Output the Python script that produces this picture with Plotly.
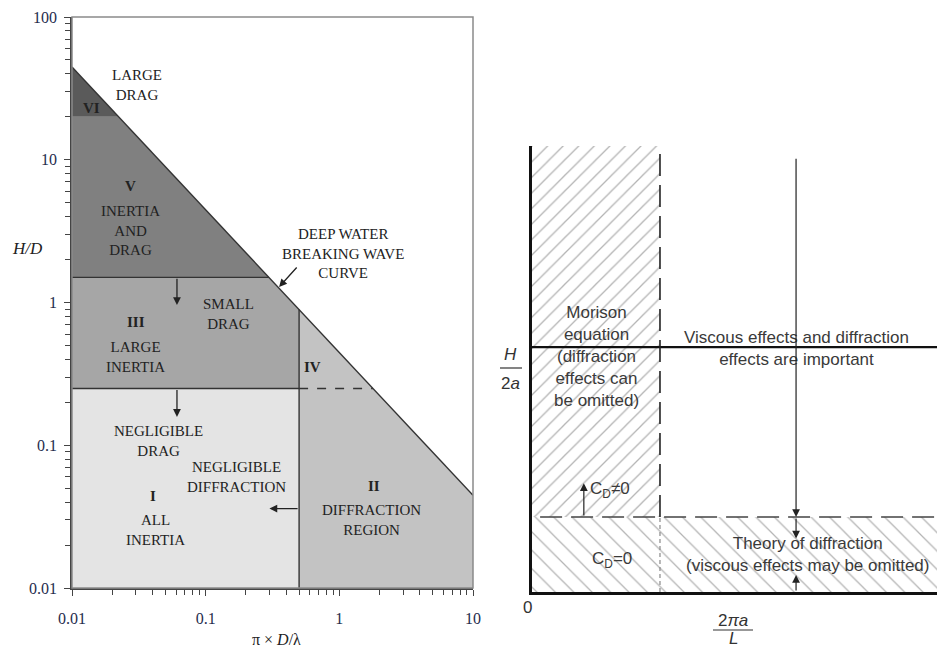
import math
import plotly.graph_objects as go

# ---------------- left panel: wave-force regimes on log-log axes ----------------
kd_range = [0.01, 10]          # pi * D / lambda
hd_range = [0.01, 100]         # H / D
breaking_coef = 0.446          # deep-water breaking: H/D = 0.446 / (pi D / lambda)
hd_large_drag = 20.0           # VI / V boundary
hd_inertia_drag = 1.5          # V / III boundary
hd_large_inertia = 0.25        # III / I boundary
kd_diffraction = 0.5           # onset of diffraction

region_colors = {"VI": "#5a5a5a", "V": "#808080", "III": "#a6a6a6",
                 "II": "#c3c3c3", "I": "#e4e4e4"}

kd_ticks = [0.01, 0.1, 1, 10]
kd_tick_text = ["0.01", "0.1", "1", "10"]
hd_ticks = [0.01, 0.1, 1, 10, 100]
hd_tick_text = ["0.01", "0.1", "1", "10", "100"]

# region labels: text, pi*D/lambda, H/D, bold
region_labels = [
    ("LARGE<br>DRAG", 0.0306, 33.4, False),
    ("VI", 0.0141, 23.1, True),
    ("V", 0.0272, 6.55, True),
    ("INERTIA<br>AND<br>DRAG", 0.0272, 3.17, False),
    ("III", 0.0301, 0.73, True),
    ("SMALL<br>DRAG", 0.147, 0.83, False),
    ("LARGE<br>INERTIA", 0.0301, 0.415, False),
    ("IV", 0.635, 0.353, True),
    ("NEGLIGIBLE<br>DRAG", 0.044, 0.107, False),
    ("NEGLIGIBLE<br>DIFFRACTION", 0.169, 0.060, False),
    ("I", 0.0404, 0.044, True),
    ("ALL<br>INERTIA", 0.0418, 0.0255, False),
    ("II", 1.82, 0.052, True),
    ("DIFFRACTION<br>REGION", 1.75, 0.030, False),
    ("DEEP WATER<br>BREAKING WAVE<br>CURVE", 1.06, 2.22, False),
]

# arrows: (tail kd, tail hd, tip kd, tip hd)
regime_arrows = [
    (0.061, 1.5, 0.061, 0.96),
    (0.061, 0.25, 0.061, 0.158),
    (0.5, 0.036, 0.30, 0.036),
    (0.491, 1.80, 0.354, 1.285),
]

# ---------------- right panel: schematic on linear axes ----------------
ka_range = [0, 10]             # 2 pi a / L
ha_range = [0, 10]             # H / 2a
ka_morison = 3.16              # right edge of Morison band
ha_split = 5.49                # viscous + diffraction split line
ha_diffraction = 1.68          # top of pure-diffraction band
ka_dim = 6.52                  # position of the dimension arrows
ka_cd = 1.28                   # position of the C_D arrow


def breaking(kd):
    return breaking_coef / kd


def breaking_inv(hd):
    return breaking_coef / hd


def lg(v):
    return math.log10(v)


SERIF = "Liberation Serif, Times New Roman, serif"
SANS = "Liberation Sans, Arial, sans-serif"
LINE = "#333333"
W, H = 937, 650

fig = go.Figure()

# filled regimes
polys = {
    "I": [(kd_range[0], hd_range[0]), (kd_diffraction, hd_range[0]),
          (kd_diffraction, hd_large_inertia), (kd_range[0], hd_large_inertia)],
    "III": [(kd_range[0], hd_large_inertia), (kd_diffraction, hd_large_inertia),
            (kd_diffraction, breaking(kd_diffraction)),
            (breaking_inv(hd_inertia_drag), hd_inertia_drag), (kd_range[0], hd_inertia_drag)],
    "V": [(kd_range[0], hd_inertia_drag), (breaking_inv(hd_inertia_drag), hd_inertia_drag),
          (breaking_inv(hd_large_drag), hd_large_drag), (kd_range[0], hd_large_drag)],
    "VI": [(kd_range[0], hd_large_drag), (breaking_inv(hd_large_drag), hd_large_drag),
           (kd_range[0], breaking(kd_range[0]))],
    "II": [(kd_diffraction, hd_range[0]), (kd_range[1], hd_range[0]),
           (kd_range[1], breaking(kd_range[1])), (kd_diffraction, breaking(kd_diffraction))],
}
for name, pts in polys.items():
    xs = [p[0] for p in pts] + [pts[0][0]]
    ys = [p[1] for p in pts] + [pts[0][1]]
    fig.add_trace(go.Scatter(x=xs, y=ys, fill="toself", mode="none",
                             fillcolor=region_colors[name], hoverinfo="skip",
                             xaxis="x", yaxis="y"))

# boundary lines
boundaries = [
    ([kd_range[0], kd_range[1]], [breaking(kd_range[0]), breaking(kd_range[1])], "solid"),
    ([kd_range[0], breaking_inv(hd_inertia_drag)], [hd_inertia_drag, hd_inertia_drag], "solid"),
    ([kd_range[0], kd_diffraction], [hd_large_inertia, hd_large_inertia], "solid"),
    ([kd_diffraction, kd_diffraction], [hd_range[0], breaking(kd_diffraction)], "solid"),
    ([kd_diffraction, breaking_inv(hd_large_inertia)], [hd_large_inertia, hd_large_inertia], "dash"),
]
for xs, ys, dash in boundaries:
    fig.add_trace(go.Scatter(x=xs, y=ys, mode="lines", hoverinfo="skip",
                             line=dict(color=LINE, width=1.4, dash=dash),
                             xaxis="x", yaxis="y"))

# right panel hatching
fig.add_trace(go.Scatter(
    x=[0, ka_morison, ka_morison, 0, 0],
    y=[ha_diffraction, ha_diffraction, ha_range[1], ha_range[1], ha_diffraction],
    fill="toself", mode="none", fillcolor="white", hoverinfo="skip",
    fillpattern=dict(shape="/", fgcolor="#6a6a6a", bgcolor="white", size=11, solidity=0.12),
    xaxis="x2", yaxis="y2"))
fig.add_trace(go.Scatter(
    x=[0, ka_range[1], ka_range[1], 0, 0],
    y=[0, 0, ha_diffraction, ha_diffraction, 0],
    fill="toself", mode="none", fillcolor="white", hoverinfo="skip",
    fillpattern=dict(shape="\\", fgcolor="#6a6a6a", bgcolor="white", size=13, solidity=0.1),
    xaxis="x2", yaxis="y2"))

# right panel lines
schematic_lines = [
    ([0, ka_range[1]], [ha_split, ha_split], "#111111", 2.2, "solid"),
    ([ka_morison, ka_morison], [ha_diffraction, ha_range[1]], "#222222", 1.6, "22px,9px"),
    ([ka_morison, ka_morison], [0, ha_diffraction], "#888888", 1.2, "4px,3px"),
    ([0.2, ka_range[1]], [ha_diffraction, ha_diffraction], "#444444", 1.5, "22px,9px"),
]
for xs, ys, col, w, dash in schematic_lines:
    fig.add_trace(go.Scatter(x=xs, y=ys, mode="lines", hoverinfo="skip",
                             line=dict(color=col, width=w, dash=dash),
                             xaxis="x2", yaxis="y2"))

annotations = []
for text, kd, hd, bold in region_labels:
    annotations.append(dict(
        x=lg(kd), y=lg(hd), xref="x", yref="y", showarrow=False,
        xanchor="center", yanchor="middle",
        text=f"<b>{text}</b>" if bold else text,
        font=dict(family=SERIF, size=15, color="#222222")))

for tx, ty, hx, hy in regime_arrows:
    annotations.append(dict(
        x=lg(hx), y=lg(hy), ax=lg(tx), ay=lg(ty), xref="x", yref="y",
        axref="x", ayref="y", text="", showarrow=True, arrowhead=2,
        arrowsize=1.2, arrowwidth=1.3, arrowcolor="#222222"))


def paper_text(text, px, py, font):
    return dict(x=px / W, y=1 - py / H, xref="paper", yref="paper", showarrow=False,
                xanchor="center", yanchor="middle", text=text, font=font)


# axis titles, left panel
annotations.append(paper_text("<i>H/D</i>", 27, 248,
                              dict(family=SERIF, size=17, color="#222222")))
annotations.append(paper_text("π × <i>D</i>/λ", 276, 639,
                              dict(family=SERIF, size=16, color="#222222")))

# right panel texts
right_texts = [
    ("Morison<br>equation<br>(diffraction<br>effects can<br>be omitted)", 1.60, 5.27),
    ("Viscous effects and diffraction<br>effects are important", 6.54, 5.45),
    ("Theory of diffraction<br>(viscous effects may be omitted)", 6.79, 0.85),
    ("C<sub>D</sub>≠0", 1.93, 2.29),
    ("C<sub>D</sub>=0", 1.98, 0.72),
]
for text, x, y in right_texts:
    annotations.append(dict(x=x, y=y, xref="x2", yref="y2", text=text, showarrow=False,
                            xanchor="center", yanchor="middle",
                            font=dict(family=SANS, size=17, color="#3a3a3a")))

schematic_arrows = [
    (ka_dim, 9.75, ka_dim, ha_diffraction),
    (ka_dim, ha_diffraction, ka_dim, 1.2),
    (ka_dim, 0.0, ka_dim, 0.38),
    (ka_cd, ha_diffraction, ka_cd, 2.44),
]
for tx, ty, hx, hy in schematic_arrows:
    annotations.append(dict(
        x=hx, y=hy, ax=tx, ay=ty, xref="x2", yref="y2", axref="x2", ayref="y2",
        text="", showarrow=True, arrowhead=2, arrowsize=1.3, arrowwidth=1.2,
        arrowcolor="#222222"))

# fraction-style axis labels, right panel
frac_font = dict(family=SANS, size=17, color="#333333")
annotations += [
    paper_text("<i>H</i>", 511, 355, frac_font),
    paper_text("2<i>a</i>", 511, 383, frac_font),
    paper_text("0", 527, 607, frac_font),
    paper_text("2<i>πa</i>", 733, 620, frac_font),
    paper_text("<i>L</i>", 733, 638, frac_font),
]

shapes = [
    # frame of left panel
    dict(type="rect", xref="x domain", yref="y domain", x0=0, x1=1, y0=0, y1=1,
         line=dict(color="#8a8a8a", width=1.5), layer="above"),
    # fraction bars
    dict(type="line", xref="paper", yref="paper", x0=500 / W, x1=522 / W,
         y0=1 - 368 / H, y1=1 - 368 / H, line=dict(color="#333333", width=1.2)),
    dict(type="line", xref="paper", yref="paper", x0=713 / W, x1=753 / W,
         y0=1 - 630 / H, y1=1 - 630 / H, line=dict(color="#333333", width=1.2)),
]

minor_kd = [m * 10 ** e for e in (-2, -1, 0) for m in range(2, 10)]
minor_hd = [m * 10 ** e for e in (-2, -1, 0, 1) for m in range(2, 10)]

tick_font = dict(family=SERIF, size=16, color="#1f2d4d")

fig.update_layout(
    width=W, height=H, margin=dict(l=0, r=0, t=0, b=0, autoexpand=False),
    paper_bgcolor="white", plot_bgcolor="white", showlegend=False,
    annotations=annotations, shapes=shapes,
    xaxis=dict(type="log", range=[lg(kd_range[0]), lg(kd_range[1])],
               domain=[72 / W, 473 / W], anchor="y", automargin=False,
               tickvals=kd_ticks, ticktext=kd_tick_text, ticks="outside",
               ticklen=6, tickwidth=1.2, tickcolor="#444444", tickfont=tick_font,
               ticklabelstandoff=9,
               minor=dict(tickvals=minor_kd, ticks="outside", ticklen=5,
                          tickwidth=1, tickcolor="#444444"),
               showgrid=False, zeroline=False, showline=True,
               linecolor="#444444", linewidth=1.6),
    yaxis=dict(type="log", range=[lg(hd_range[0]), lg(hd_range[1])],
               domain=[1 - 588 / H, 1 - 17 / H], anchor="x", automargin=False,
               tickvals=hd_ticks, ticktext=hd_tick_text, ticks="outside",
               ticklen=6, tickwidth=1.2, tickcolor="#444444", tickfont=tick_font,
               ticklabelstandoff=4,
               minor=dict(tickvals=minor_hd, ticks="outside", ticklen=5,
                          tickwidth=1, tickcolor="#444444"),
               showgrid=False, zeroline=False, showline=True,
               linecolor="#444444", linewidth=1.6),
    xaxis2=dict(range=ka_range, domain=[532 / W, 1.0], anchor="y2", automargin=False,
                showticklabels=False, ticks="", showgrid=False, zeroline=False,
                showline=True, linecolor="#111111", linewidth=2.5),
    yaxis2=dict(range=ha_range, domain=[1 - 592 / H, 1 - 146 / H], anchor="x2",
                automargin=False,
                showticklabels=False, ticks="", showgrid=False, zeroline=False,
                showline=True, linecolor="#111111", linewidth=2.5),
)

fig.write_html("out.html")
